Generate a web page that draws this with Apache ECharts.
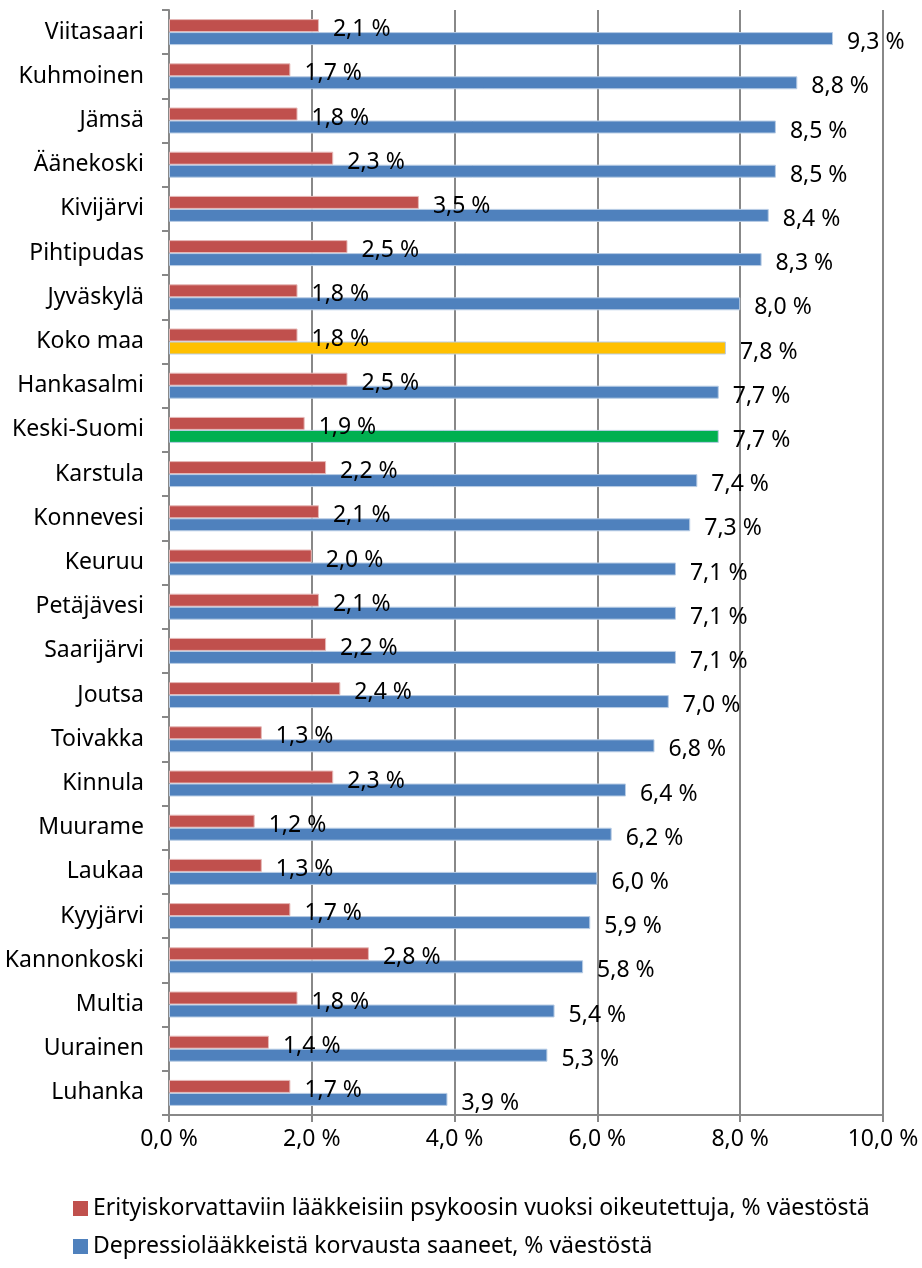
<!DOCTYPE html>
<html>
<head>
<meta charset="utf-8">
<script src="https://cdn.jsdelivr.net/npm/echarts@6/dist/echarts.min.js"></script>
<style>
  html, body { margin: 0; padding: 0; background: #fff; }
  #chart { width: 922px; height: 1268px; }
</style>
</head>
<body>
<div id="chart"></div>
<script>
// kunnat ylhäältä alas
var kunnat = ['Viitasaari', 'Kuhmoinen', 'Jämsä', 'Äänekoski', 'Kivijärvi', 'Pihtipudas',
    'Jyväskylä', 'Koko maa', 'Hankasalmi', 'Keski-Suomi', 'Karstula', 'Konnevesi', 'Keuruu',
    'Petäjävesi', 'Saarijärvi', 'Joutsa', 'Toivakka', 'Kinnula', 'Muurame', 'Laukaa',
    'Kyyjärvi', 'Kannonkoski', 'Multia', 'Uurainen', 'Luhanka'];
var psykoosi = [2.1, 1.7, 1.8, 2.3, 3.5, 2.5, 1.8, 1.8, 2.5, 1.9, 2.2, 2.1, 2.0,
    2.1, 2.2, 2.4, 1.3, 2.3, 1.2, 1.3, 1.7, 2.8, 1.8, 1.4, 1.7];
var depressio = [9.3, 8.8, 8.5, 8.5, 8.4, 8.3, 8.0, 7.8, 7.7, 7.7, 7.4, 7.3, 7.1,
    7.1, 7.1, 7.0, 6.8, 6.4, 6.2, 6.0, 5.9, 5.8, 5.4, 5.3, 3.9];
var sarjaNimet = ['Erityiskorvattaviin lääkkeisiin psykoosin vuoksi oikeutettuja, % väestöstä',
    'Depressiolääkkeistä korvausta saaneet, % väestöstä'];
// erikseen korostetut rivit
var korostus = { 'Koko maa': '#FFC000', 'Keski-Suomi': '#00B050' };

var FONT = 'Noto Sans, sans-serif';
var FS = 23;
var RED = '#C0504D';
var BLUE = '#4F81BD';

function pct(v) { return v.toFixed(1).replace('.', ',') + ' %'; }

var depData = [];
for (var i = 0; i < kunnat.length; i++) {
    var d = { value: depressio[i] };
    if (korostus[kunnat[i]]) d.itemStyle = { color: korostus[kunnat[i]] };
    depData.push(d);
}

// kaksi selitettä omille riveilleen
function selite(nimi, top) {
    return {
        data: [nimi], left: 68, top: top,
        itemWidth: 15, itemHeight: 15, icon: 'rect',
        itemStyle: { borderWidth: 0 },
        textStyle: { fontFamily: FONT, fontSize: FS, color: '#000' }
    };
}

var chart = echarts.init(document.getElementById('chart'), null, { renderer: 'canvas' });
chart.setOption({
    animation: false,
    textStyle: { fontFamily: FONT },
    grid: { left: 169, right: 39, top: 10, bottom: 153, containLabel: false },
    legend: [selite(sarjaNimet[0], 1192), selite(sarjaNimet[1], 1230)],
    xAxis: {
        type: 'value', min: 0, max: 10, interval: 2,
        axisLine: { show: true, lineStyle: { color: '#888', width: 2 } },
        axisTick: { show: true, length: 7, lineStyle: { color: '#888', width: 2 } },
        splitLine: { show: true, lineStyle: { color: '#888', width: 2 } },
        axisLabel: {
            margin: 13, fontSize: FS, color: '#000', fontFamily: FONT,
            formatter: function (v) { return pct(v); }
        }
    },
    yAxis: {
        type: 'category', data: kunnat, inverse: true,
        axisLine: { show: true, lineStyle: { color: '#888', width: 2 } },
        axisTick: { show: true, length: 7, lineStyle: { color: '#888', width: 2 } },
        axisLabel: { margin: 25, fontSize: FS, color: '#000', fontFamily: FONT }
    },
    series: [{
        name: sarjaNimet[0], type: 'bar', data: psykoosi,
        barWidth: 13, barGap: '0%',
        itemStyle: { color: RED, borderColor: '#E6B9B8', borderWidth: 1 },
        label: {
            show: true, position: 'right', distance: 14, offset: [0, 4],
            fontSize: FS, color: '#000', fontFamily: FONT,
            formatter: function (p) { return pct(p.value); }
        }
    }, {
        name: sarjaNimet[1], type: 'bar', data: depData,
        barWidth: 13,
        itemStyle: { color: BLUE, borderColor: '#B9CDE5', borderWidth: 1 },
        label: {
            show: true, position: 'right', distance: 14, offset: [0, 4],
            fontSize: FS, color: '#000', fontFamily: FONT,
            formatter: function (p) { return pct(p.value); }
        }
    }]
});
</script>
</body>
</html>
